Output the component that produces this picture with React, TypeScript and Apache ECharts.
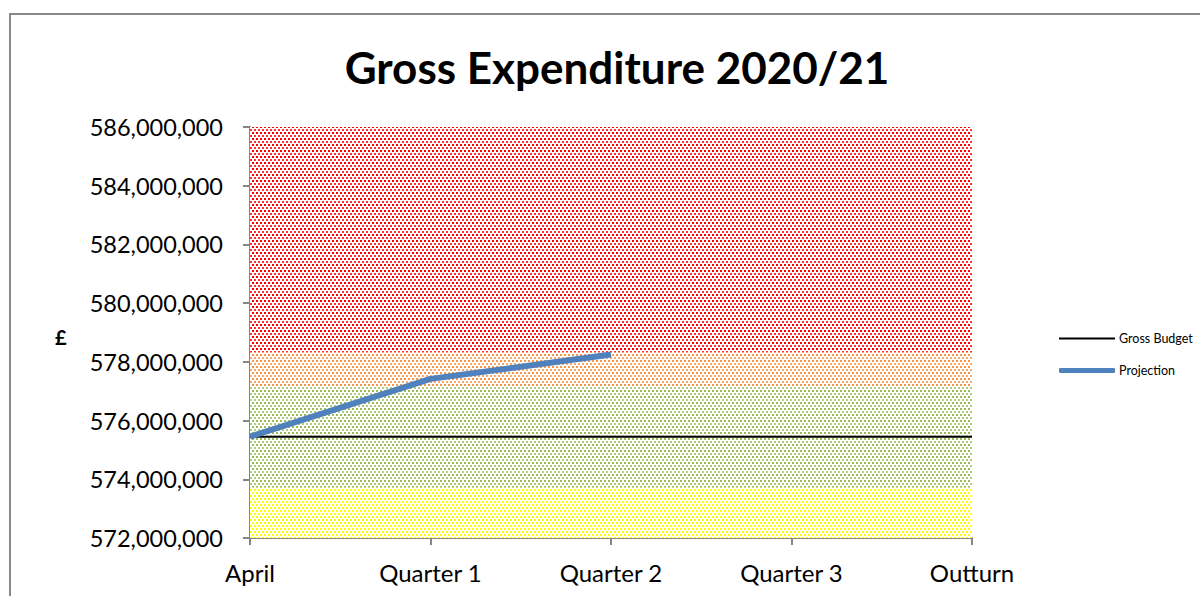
import React, { useEffect, useRef } from "react";
import * as echarts from "echarts";

const categories = ["April", "Quarter 1", "Quarter 2", "Quarter 3", "Outturn"];
const grossBudget = [575450000, 575450000, 575450000, 575450000, 575450000];
const projection: (number | null)[] = [575450000, 577420000, 578250000, null, null];
// band boundaries (stacked): yellow up to 573.72M, green to 577.18M, orange to 578.33M, red to 586M
const bandYellow = [573720000, 573720000, 573720000, 573720000, 573720000];
const bandGreen = [3460000, 3460000, 3460000, 3460000, 3460000];
const bandOrange = [1150000, 1150000, 1150000, 1150000, 1150000];
const bandRed = [7670000, 7670000, 7670000, 7670000, 7670000];
const yTicks = { min: 572000000, max: 586000000, interval: 2000000 };

function makePattern(color: string, light: string) {
  const c = document.createElement("canvas");
  c.width = 4;
  c.height = 6;
  const ctx = c.getContext("2d")!;
  ctx.fillStyle = "#ffffff";
  ctx.fillRect(0, 0, 4, 6);
  ctx.fillStyle = color;
  ctx.fillRect(0, 0, 2, 2);
  ctx.fillStyle = light;
  ctx.fillRect(2, 3, 2, 2);
  return { image: c, repeat: "repeat" as const };
}

export default function App() {
  const ref = useRef<HTMLDivElement>(null);
  useEffect(() => {
    const chart = echarts.init(ref.current!, null, { renderer: "svg" });
    const band = (name: string, data: number[], pat: any) => ({
      name,
      type: "line",
      stack: "bands",
      data,
      symbol: "none",
      lineStyle: { width: 0 },
      areaStyle: { color: pat, opacity: 1 },
      silent: true,
      z: 1,
    });
    const legendText = { fontFamily: "Lato", fontSize: 12.5, color: "#000", padding: [0, 0, 0, -1] };
    chart.setOption({
      animation: false,
      title: {
        text: "Gross Expenditure 2020/21",
        left: 612,
        top: 40,
        textAlign: "center",
        textStyle: { fontFamily: "Lato", fontWeight: "bold", fontSize: 44, color: "#000" },
      },
      legend: [
        {
          orient: "vertical",
          left: 1054,
          top: 327,
          itemWidth: 56,
          itemHeight: 2,
          icon: "rect",
          data: ["Gross Budget"],
          textStyle: legendText,
        },
        {
          orient: "vertical",
          left: 1054,
          top: 359,
          itemWidth: 56,
          itemHeight: 5,
          icon: "roundRect",
          data: ["Projection"],
          textStyle: legendText,
        },
      ],
      grid: { left: 250, right: 228, top: 127, bottom: 58 },
      xAxis: {
        type: "category",
        data: categories,
        boundaryGap: false,
        axisLine: { lineStyle: { color: "#868686", width: 2 } },
        axisTick: { length: 7, lineStyle: { color: "#868686", width: 2 } },
        axisLabel: { fontFamily: "Lato", fontSize: 24, color: "#000", margin: 22 },
      },
      yAxis: {
        type: "value",
        min: yTicks.min,
        max: yTicks.max,
        interval: yTicks.interval,
        splitLine: { show: false },
        axisLine: { show: true, lineStyle: { color: "#868686", width: 2 } },
        axisTick: { show: true, length: 7, lineStyle: { color: "#868686", width: 2 } },
        axisLabel: {
          fontFamily: "Lato",
          fontSize: 23.5,
          color: "#000",
          margin: 27,
          formatter: (v: number) => v.toLocaleString("en-GB"),
        },
      },
      graphic: [
        {
          type: "rect",
          shape: { x: 10, y: 14, width: 1200, height: 600 },
          style: { fill: "none", stroke: "#888888", lineWidth: 2 },
          silent: true,
          z: -10,
        },
        {
          type: "text",
          x: 55,
          y: 327,
          style: { text: "£", fontFamily: "Lato", fontWeight: "bold", fontSize: 20, fill: "#000" },
        },
      ],
      series: [
        band("yellow", bandYellow, makePattern("#ffff00", "#ffff00")),
        band("green", bandGreen, makePattern("#9bbb59", "#b0cc7a")),
        band("orange", bandOrange, makePattern("#f79646", "#f9a86a")),
        band("red", bandRed, makePattern("#ff0000", "#ff3030")),
        {
          name: "Gross Budget",
          type: "line",
          data: grossBudget,
          symbol: "none",
          lineStyle: { color: "#000", width: 2 },
          itemStyle: { color: "#000" },
          z: 5,
        },
        {
          name: "Projection",
          type: "line",
          data: projection,
          symbol: "none",
          lineStyle: { color: "#4f81bd", width: 6 },
          itemStyle: { color: "#4f81bd" },
          z: 6,
        },
      ],
    });
    return () => chart.dispose();
  }, []);
  return (
    <div
      ref={ref}
      style={{ position: "absolute", left: 0, top: 0, width: 1200, height: 596, background: "#fff" }}
    />
  );
}
